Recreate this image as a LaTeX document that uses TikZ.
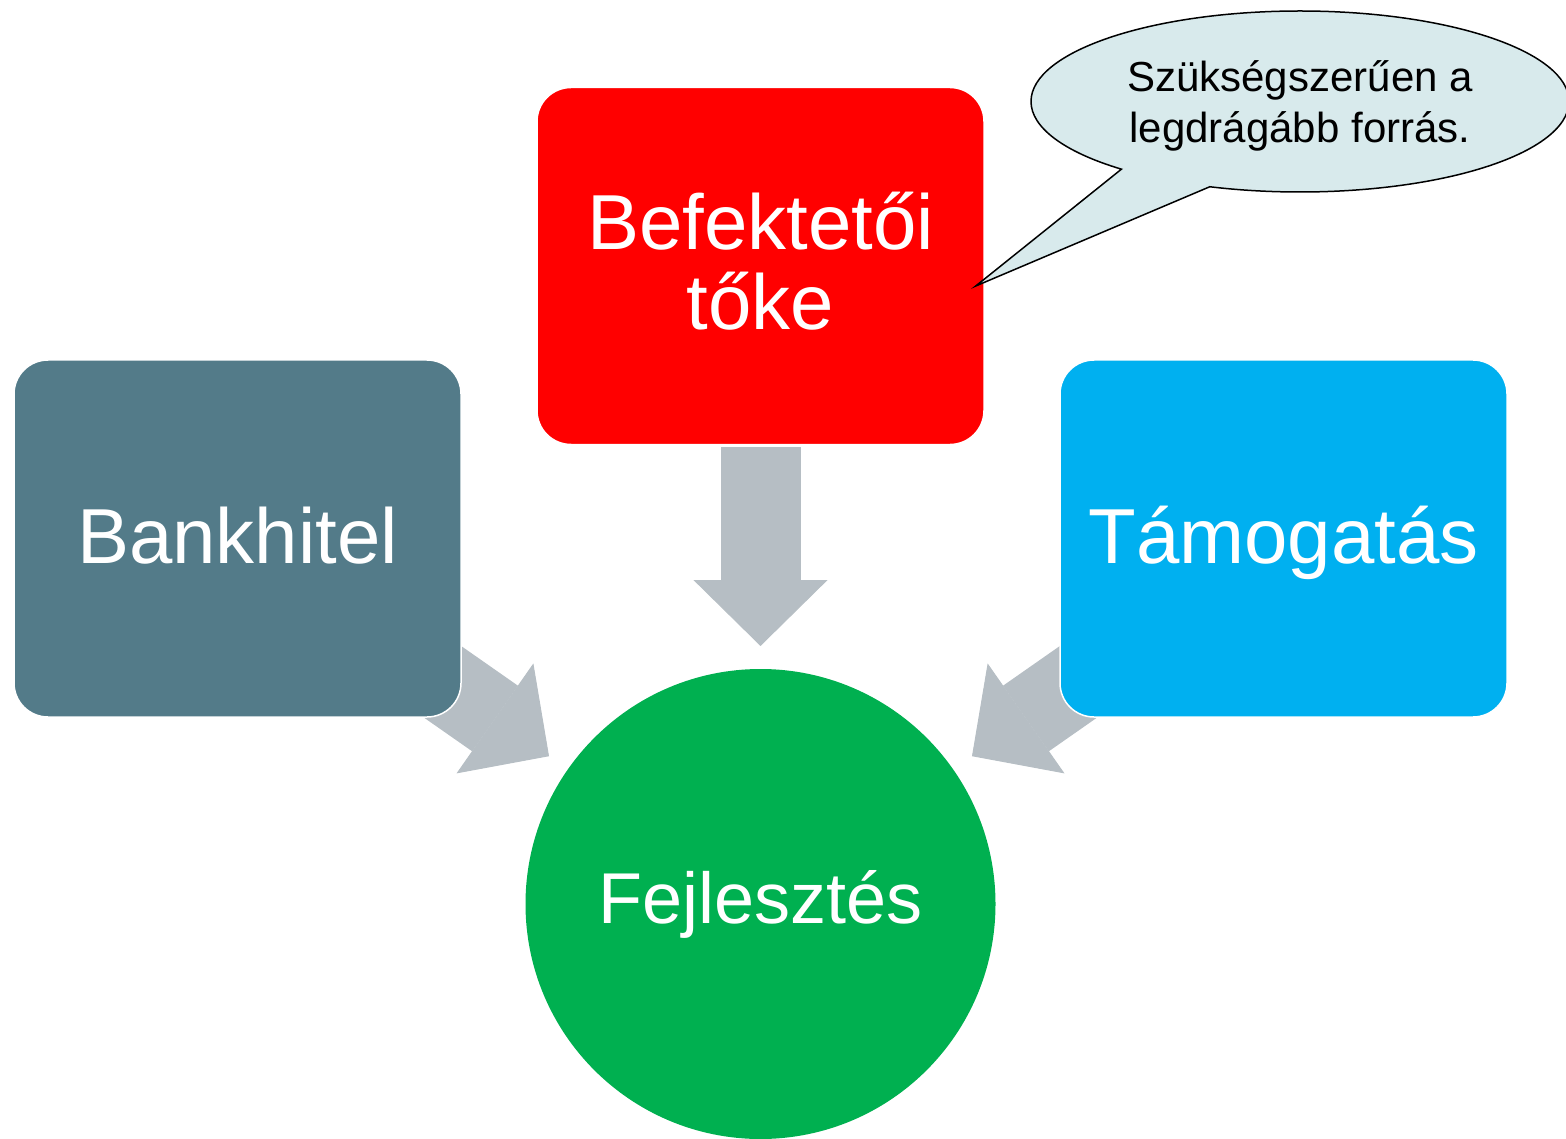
\documentclass[tikz,border=0pt]{standalone}
\usepackage{fontspec}
\setmainfont{Liberation Sans}
\usetikzlibrary{shapes.callouts, arrows.meta, backgrounds, calc}

\definecolor{bankslate}{RGB}{83,123,137}
\definecolor{investred}{RGB}{255,0,0}
\definecolor{grantblue}{RGB}{0,176,240}
\definecolor{devgreen}{RGB}{0,176,80}
\definecolor{arrowgray}{RGB}{182,190,196}
\definecolor{notefill}{RGB}{216,234,236}

\begin{document}
\begin{tikzpicture}[x = 1pt, y = -1pt,
	box/.style = {draw = white, line width = 1.5pt, rounded corners = 34pt, minimum width = 447pt, minimum height = 357pt, text = white, font = \fontsize{78}{80}\selectfont, align = center},
	oneline/.style = {text height = 58pt, text depth = 9pt},
	fatarrow/.style = {draw = arrowgray, line width = 80pt, -{Triangle[width = 134pt, length = 66pt, line width = 1pt]}}
]
\useasboundingbox (0, 0) rectangle (1566, 1139);
\node[box, oneline, fill = bankslate] (bank) at (237.5, 538.5) {Bankhitel};
\node[box, fill = investred] (invest) at (760.5, 266) {Befektetői\\tőke\rule[-10pt]{0pt}{10pt}};
\node[box, oneline, fill = grantblue] (grant) at (1283.5, 538.5) {Támogatás};
\node[circle, fill = devgreen, minimum size = 470pt, inner sep = 0pt, outer sep = 0pt, text = white, font = \fontsize{72}{72}\selectfont] (dev) at (760.5, 904) {Fejlesztés};
\begin{scope}[on background layer]
\draw[fatarrow, shorten <= 2pt, shorten >= 23pt] (invest) -- (dev);
\draw[fatarrow, shorten <= 181pt, shorten >= 23pt] (bank.center) -- (dev);
\draw[fatarrow, shorten <= 181pt, shorten >= 23pt] (grant.center) -- (dev);
\end{scope}
% callout on top of the red box
\node[ellipse callout, draw = black, line width = 1.5pt, fill = notefill, minimum width = 538pt, minimum height = 181pt, inner sep = 0pt,
	callout pointer arc = 22, callout absolute pointer = {($(invest.east) + (-9, 20)$)},
	align = center, font = \fontsize{42}{51}\selectfont] (note) at (1300, 101.5) {\rule{0pt}{39pt}Szükségszerűen a\\legdrágább forrás.};
\end{tikzpicture}
\end{document}
